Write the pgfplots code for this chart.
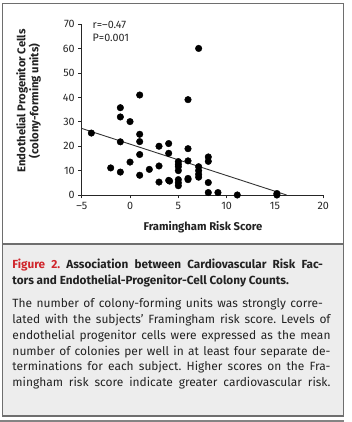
\documentclass[border=0pt]{standalone}
\usepackage{fontspec}
\setmainfont{Fira Sans}
\usepackage{pgfplots}
\pgfplotsset{compat=1.18}
\definecolor{nejmred}{HTML}{D0262C}
\definecolor{capbg}{HTML}{EDEDED}
\definecolor{framec}{HTML}{6E6E6E}
\definecolor{txt}{HTML}{222222}
\newcommand{\J}[2]{\hbox to #1bp{#2}}
\frenchspacing
\begin{document}
\frenchspacing
\begin{tikzpicture}[x=1bp,y=1bp]
\useasboundingbox (0,0) rectangle (352,422);
\fill[white] (0,0) rectangle (352,422);
\fill[capbg] (2.5,6) rectangle (343.5,178);
\draw[framec,line width=1.3bp] (2.5,6) rectangle (343.5,418.5);
\draw[framec,line width=1.3bp] (2.5,178) -- (343.5,178);
\fill[framec!85] (0,0) rectangle (343.5,2.5);
\begin{axis}[
  at={(81.7bp,227bp)}, anchor=south west,
  scale only axis, width=241.6bp, height=170.7bp,
  xmin=-5, xmax=20, ymin=0, ymax=70,
  axis lines*=left,
  axis line style={black!85, line width=0.8bp},
  xtick={-5,0,5,10,15,20},
  xticklabels={–5,0,5,10,15,20},
  ytick={0,10,20,30,40,50,60,70},
  tick align=outside,
  major tick length=3.5bp,
  tick style={black!85, line width=0.8bp},
  tick label style={font=\fontsize{10.8}{12}\selectfont, text=black!85},
  /pgf/number format/assume math mode=true,
  clip=false,
]
\addplot[only marks, mark=*, mark size=3.3bp, black, mark options={fill=black}] coordinates {
(-4.0,25.4) (-2.0,11.1) (-1.0,35.8) (-1.0,32.0) (-1.0,21.8) (-1.0,9.4)
(0.0,30.1) (0.0,13.5) (1.0,41.0) (1.0,24.9) (1.0,21.9) (1.0,16.6) (1.0,8.1)
(2.0,10.5) (3.0,20.0) (3.0,11.9) (3.0,5.3) (4.0,21.1) (4.0,17.1) (4.0,6.0) (4.1,5.7)
(5.0,13.7) (5.0,12.6) (5.0,11.6) (5.0,10.0) (5.0,6.3) (5.0,5.0) (5.0,3.8)
(6.0,39.1) (6.0,19.0) (6.0,14.0) (6.0,6.8) (6.0,6.3)
(7.1,60.1) (7.1,11.6) (7.1,10.0) (7.1,8.5) (7.1,7.3)
(8.1,15.6) (8.1,13.8) (8.1,5.1) (8.1,1.0) (9.1,1.0) (11.1,0.0) (15.2,0.0) (15.2,0.6)
};
\addplot[black!80, line width=0.9bp] coordinates {(-5,27.3) (16.2,0)};
\end{axis}
% stats
\node[anchor=west, font=\fontsize{10.8}{12}\selectfont, text=black!85, inner sep=0] at (92.5,397.5) {r=–0.47};
\node[anchor=west, font=\fontsize{10.8}{12}\selectfont, text=black!85, inner sep=0] at (92.5,384.5) {P=0.001};
% axis labels
\node[font=\bfseries\fontsize{11.3}{12}\selectfont, text=txt, inner sep=0] at (203,194.5) {Framingham Risk Score};
\node[rotate=90, align=center, font=\bfseries\fontsize{11.3}{13}\selectfont, text=txt, inner sep=0] at (28.5,321) {Endothelial Progenitor Cells\\(colony-forming units)};
% caption
\begin{scope}[every node/.style={anchor=base west, inner sep=0, text=txt}]
\node[font=\bfseries\fontsize{11.8}{16}\selectfont] at (12.3,153.5) {\J{310.5}{{\color{nejmred}Figure 2.} Association between Cardiovascular Risk Fac-}};
\node[font=\bfseries\fontsize{11.8}{16}\selectfont] at (12.3,137.5) {tors and Endothelial-Progenitor-Cell Colony Counts.};
\node[font=\fontsize{12}{16}\selectfont] at (12.3,115) {\J{310.5}{The number of colony-forming units was strongly corre-}};
\node[font=\fontsize{12}{16}\selectfont] at (12.3,99) {\J{318}{lated with the subjects’ Framingham risk score. Levels of}};
\node[font=\fontsize{12}{16}\selectfont] at (12.3,83) {\J{318}{endothelial progenitor cells were expressed as the mean}};
\node[font=\fontsize{12}{16}\selectfont] at (12.3,67) {\J{318}{number of colonies per well in at least four separate de-}};
\node[font=\fontsize{12}{16}\selectfont] at (12.3,51.5) {\J{318}{terminations for each subject. Higher scores on the Fra-}};
\node[font=\fontsize{12}{16}\selectfont] at (12.3,36) {\J{318}{mingham risk score indicate greater cardiovascular risk.}};
\end{scope}
\end{tikzpicture}
\end{document}
